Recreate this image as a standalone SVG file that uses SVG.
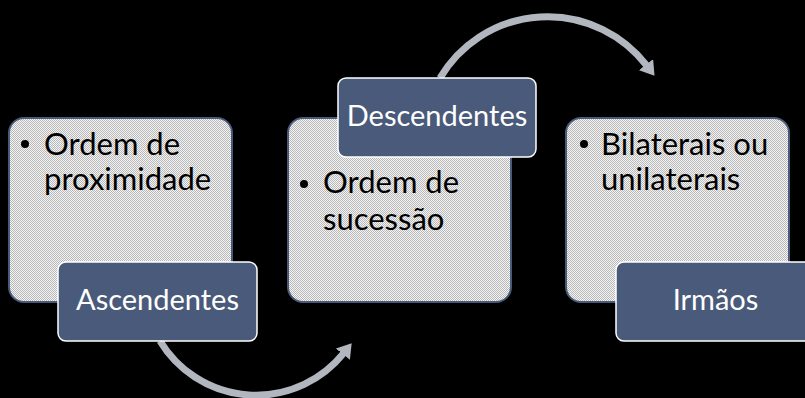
<svg xmlns="http://www.w3.org/2000/svg" width="805" height="398" viewBox="0 0 805 398">
  <defs>
    <pattern id="dots" width="2" height="2" patternUnits="userSpaceOnUse">
      <rect width="2" height="2" fill="#f4f4f4"/>
      <rect width="1" height="1" fill="#b8b8b8"/>
      <rect x="1" y="1" width="1" height="1" fill="#b8b8b8"/>
    </pattern>
    <marker id="head" viewBox="0 0 14 18" refX="1" refY="9" markerWidth="14" markerHeight="18" markerUnits="userSpaceOnUse" orient="auto">
      <path d="M0,0 L14,9 L0,18 z" fill="#b2b6be"/>
    </marker>
  </defs>
  <style>
    .big { fill: url(#dots); stroke: #4a5a7a; stroke-width: 2; }
    .lab { fill: #4a5a7a; stroke: #ffffff; stroke-width: 1.5; }
    .txt { font-family: "Lato", "Liberation Sans", sans-serif; font-size: 31px; fill: #000000; }
    .ltxt { font-family: "Lato", "Liberation Sans", sans-serif; font-size: 29px; fill: #ffffff; text-anchor: middle; }
    .arc { fill: none; stroke: #b2b6be; stroke-width: 7; marker-end: url(#head); }
  </style>
  <rect width="805" height="398" fill="#000000"/>
  <g id="connectors">
    <path class="arc" d="M160,341 A112.3,112.3 0 0 0 343.5,353.4"/>
    <path class="arc" d="M440,78 A125,125 0 0 1 646.6,65.4"/>
  </g>
  <g id="node1">
    <rect class="big" x="9" y="118" width="223" height="184" rx="15"/>
    <circle cx="25" cy="144" r="4"/>
    <text class="txt" x="44" y="155">Ordem de</text>
    <text class="txt" x="44" y="190">proximidade</text>
  </g>
  <g id="label1">
    <rect class="lab" x="58" y="262" width="199" height="79" rx="8"/>
    <text class="ltxt" x="157.5" y="310">Ascendentes</text>
  </g>
  <g id="node2">
    <rect class="big" x="288" y="118" width="223" height="184" rx="15"/>
    <circle cx="304" cy="184" r="4"/>
    <text class="txt" x="323" y="193">Ordem de</text>
    <text class="txt" x="323" y="230">sucessão</text>
  </g>
  <g id="label2">
    <rect class="lab" x="338" y="78" width="198" height="79" rx="8"/>
    <text class="ltxt" x="437" y="126">Descendentes</text>
  </g>
  <g id="node3">
    <rect class="big" x="566" y="118" width="223" height="184" rx="15"/>
    <circle cx="584" cy="144" r="4"/>
    <text class="txt" x="601" y="155">Bilaterais ou</text>
    <text class="txt" x="601" y="190">unilaterais</text>
  </g>
  <g id="label3">
    <rect class="lab" x="616" y="262" width="199" height="79" rx="8"/>
    <text class="ltxt" x="715.5" y="310">Irmãos</text>
  </g>
</svg>
